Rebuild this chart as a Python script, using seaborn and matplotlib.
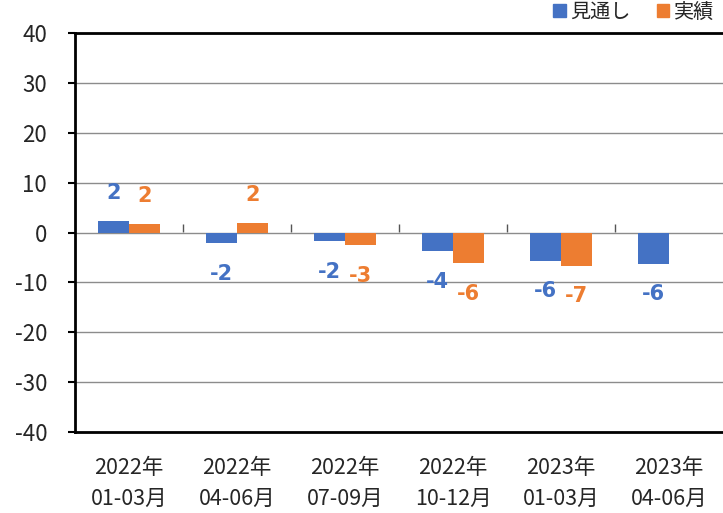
import numpy as np
import pandas as pd
import matplotlib
matplotlib.use("Agg")
import matplotlib.pyplot as plt
import seaborn as sns

categories = ["2022年\n01-03月", "2022年\n04-06月", "2022年\n07-09月",
              "2022年\n10-12月", "2023年\n01-03月", "2023年\n04-06月"]
series_names = ["見通し", "実績"]
outlook = [2.3, -2.2, -1.8, -3.7, -5.7, -6.3]
actual = [1.8, 1.9, -2.6, -6.2, -6.7, np.nan]
colors = ["#4472C4", "#ED7D31"]
y_ticks = [-40, -30, -20, -10, 0, 10, 20, 30, 40]

df = pd.DataFrame({
    "category": categories * 2,
    "series": [series_names[0]] * len(categories) + [series_names[1]] * len(categories),
    "value": outlook + actual,
})

sns.set_theme(style="white")
plt.rcParams["font.family"] = ["Noto Sans CJK JP", "DejaVu Sans"]

fig = plt.figure(figsize=(7.23, 5.13), dpi=100)
ax = fig.add_axes([75 / 723, 81 / 513, 648 / 723, 399 / 513])
sns.barplot(data=df, x="category", y="value", hue="series", palette=colors,
            width=0.57, saturation=1, ax=ax, legend=False, linewidth=0,
            edgecolor="none")

ax.set_ylim(-40, 40)
ax.set_xlim(-0.5, len(categories) - 0.5)
ax.set_yticks(y_ticks)
ax.set_yticklabels([str(v) for v in y_ticks])
ax.set_xlabel("")
ax.set_ylabel("")
ax.yaxis.grid(True, color="#8c8c8c", linewidth=1)
ax.set_axisbelow(True)
ax.tick_params(axis="y", which="major", left=True, length=5, width=1.5,
               color="black", labelsize=16, pad=15)
ax.tick_params(axis="x", which="major", bottom=False, labelsize=15.5, pad=12)
for lab in ax.get_xticklabels():
    lab.set_linespacing(1.55)
for s in ["left", "top", "bottom"]:
    ax.spines[s].set_color("black")
    ax.spines[s].set_linewidth(2)
ax.spines["right"].set_visible(False)

# category boundary ticks on zero line
sec = ax.secondary_xaxis(0.5)
sec.set_xticks([i + 0.5 for i in range(len(categories) - 1)])
sec.set_xticklabels([])
sec.tick_params(direction="out", length=6, width=1, color="#555555")
for sp in sec.spines.values():
    sp.set_visible(False)

# data labels
for cont, col in zip(ax.containers, colors):
    for bar in cont:
        h = bar.get_height()
        if h is None or np.isnan(h):
            continue
        x = bar.get_x() + bar.get_width() / 2
        off = 20 if h > 0 else -22
        ax.annotate(f"{int(np.round(h))}", (x, h), xytext=(0, off),
                    textcoords="offset points", ha="center", va="center",
                    color=col, fontsize=15, fontweight="bold",
                    family=["DejaVu Sans"])

handles = [plt.Rectangle((0, 0), 1, 1, color=c) for c in colors]
fig.legend(handles, series_names, loc="upper right", bbox_to_anchor=(1.005, 1.02),
           ncol=2, frameon=False, fontsize=14.5, handlelength=0.6, handleheight=0.6,
           handletextpad=0.25, columnspacing=1.3, borderaxespad=0.2)

fig.savefig("out.png", dpi=100)
